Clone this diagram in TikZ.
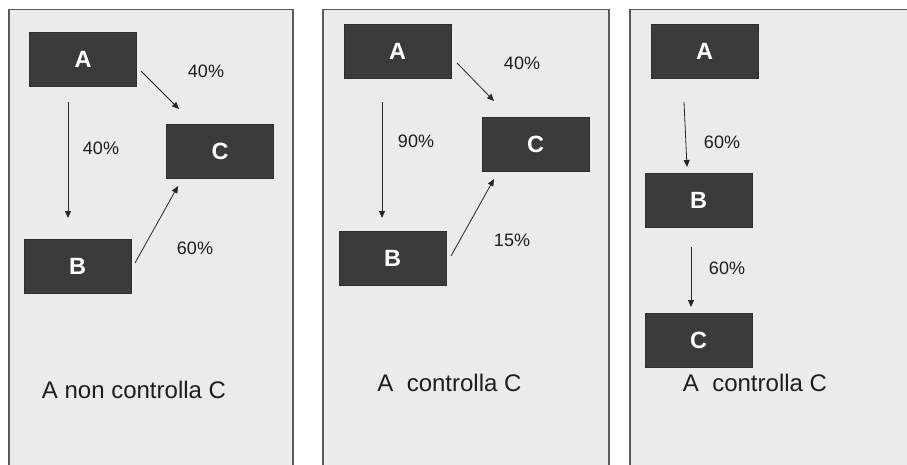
\documentclass[tikz,border=0pt]{standalone}
\usepackage{fontspec}
\setmainfont{Liberation Sans}
\usetikzlibrary{arrows.meta}
\definecolor{panelfill}{HTML}{EBEBEB}
\definecolor{panelline}{HTML}{5A5A5A}
\definecolor{boxfill}{HTML}{3B3B3B}
\definecolor{txt}{HTML}{1E1E1E}
\tikzset{
  panel/.style={draw=panelline, line width=1.6pt, fill=panelfill},
  box/.style={rectangle, fill=boxfill, draw=boxfill!80!black, line width=0.4pt, minimum width=107pt, minimum height=54pt, inner sep=0pt, text=white, font=\fontsize{23.5}{26}\selectfont\bfseries},
  pct/.style={text=txt, inner sep=0pt, font=\fontsize{18}{20}\selectfont},
  caption/.style={text=txt, inner sep=0pt, font=\fontsize{24}{28}\selectfont},
  arr/.style={draw=black!85, line width=0.8pt, -{Triangle[length=7pt,width=6pt]}}
}
\begin{document}
\begin{tikzpicture}[x=1pt,y=-1pt]
\useasboundingbox (0,0) rectangle (907,464);
\clip (0,0) rectangle (907,464);
\fill[white] (0,0) rectangle (907,464);
% panels
\draw[panel] (9,9.5) rectangle (293,480);
\draw[panel] (323,9.5) rectangle (609,480);
\draw[panel] (630,9.5) rectangle (920,480);

% ---------- panel 1 ----------
\node[box] (A1) at (83,59) {A};
\node[box] (C1) at (220,151) {C};
\node[box] (B1) at (77.5,266) {B};
\coordinate (a1b) at (68,102);
\coordinate (b1a) at (68,218);
\coordinate (a1c) at (141,71);
\coordinate (c1a) at (179,109);
\coordinate (b1c) at (135,263);
\coordinate (c1b) at (178,186);
\draw[arr] (a1b) -- (b1a);
\draw[arr] (a1c) -- (c1a);
\draw[arr] (b1c) -- (c1b);
\node[pct] (p1ac) at (206,71) {40\%};
\node[pct] (p1ab) at (101,148) {40\%};
\node[pct] (p1bc) at (195,248) {60\%};
\node[caption] (t1) at (134,390) {A non controlla C};

% ---------- panel 2 ----------
\node[box] (A2) at (397.5,51) {A};
\node[box] (C2) at (535.5,144) {C};
\node[box] (B2) at (392.5,258.5) {B};
\coordinate (a2b) at (382,102);
\coordinate (b2a) at (382,218);
\coordinate (a2c) at (457,63);
\coordinate (c2a) at (494,101);
\coordinate (b2c) at (451,256);
\coordinate (c2b) at (494,179);
\draw[arr] (a2b) -- (b2a);
\draw[arr] (a2c) -- (c2a);
\draw[arr] (b2c) -- (c2b);
\node[pct] (p2ac) at (522,63) {40\%};
\node[pct] (p2ab) at (416,141) {90\%};
\node[pct] (p2bc) at (512,240) {15\%};
\node[caption] (t2) at (449.5,383) {A\ \ controlla C};

% ---------- panel 3 ----------
\node[box] (A3) at (704.5,51) {A};
\node[box] (B3) at (698.5,200.5) {B};
\node[box] (C3) at (698.5,340.5) {C};
\coordinate (a3b) at (684,102);
\coordinate (b3a) at (687,167);
\coordinate (b3c) at (691,247);
\coordinate (c3b) at (691,307);
\draw[arr] (a3b) -- (b3a);
\draw[arr] (b3c) -- (c3b);
\node[pct] (p3ab) at (722,142) {60\%};
\node[pct] (p3bc) at (727,268) {60\%};
\node[caption] (t3) at (755,383) {A\ \ controlla C};
\end{tikzpicture}
\end{document}
